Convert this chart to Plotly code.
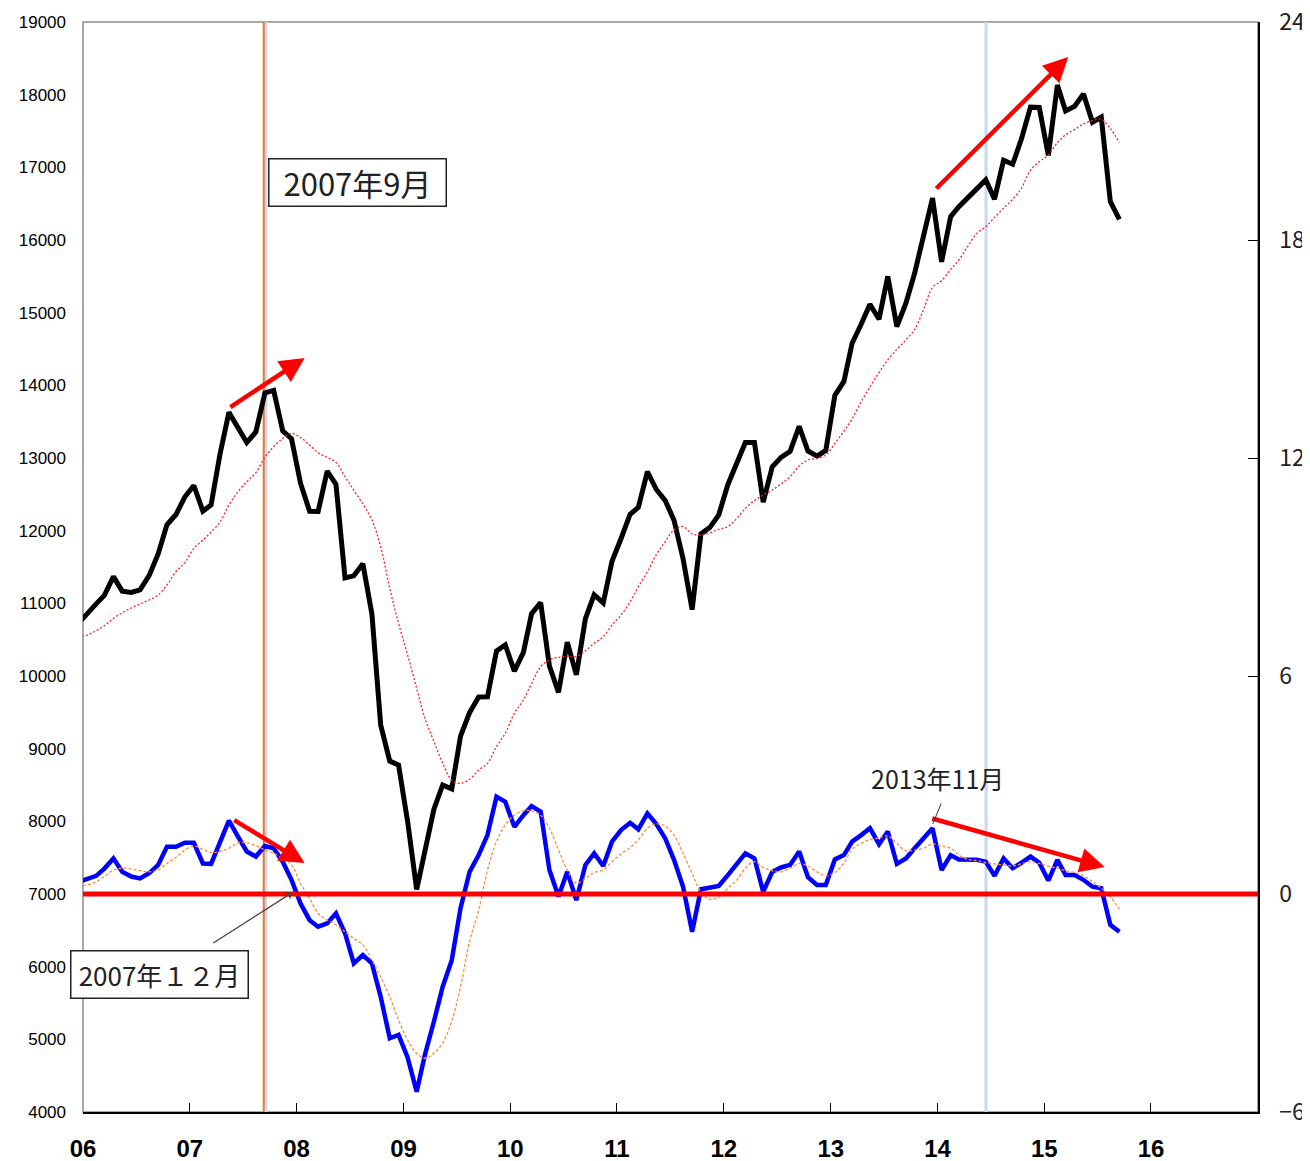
import pandas as pd
import plotly.graph_objects as go

# monthly points, plotted mid-month (Dec 2005 .. Sep 2015)
months = pd.date_range("2005-12-01", periods=118, freq="MS") + pd.Timedelta(days=14)

# Dow Jones monthly close (left axis)
dow = [10718,
       10864, 10993, 11109, 11367, 11168, 11150, 11186, 11381, 11679, 12081, 12222, 12463,
       12622, 12269, 12354, 13063, 13628, 13409, 13212, 13358, 13896, 13930, 13372, 13265,
       12650, 12266, 12263, 12820, 12638, 11350, 11378, 11544, 10851, 9325, 8829, 8776,
       8001, 7063, 7609, 8168, 8500, 8447, 9172, 9496, 9712, 9713, 10345, 10428,
       10067, 10325, 10857, 11009, 10137, 9774, 10466, 10015, 10788, 11118, 11006, 11578,
       11892, 12226, 12320, 12811, 12570, 12414, 12143, 11614, 10913, 11955, 12046, 12218,
       12633, 12952, 13212, 13214, 12393, 12880, 13009, 13091, 13437, 13096, 13026, 13104,
       13861, 14054, 14579, 14840, 15116, 14910, 15500, 14810, 15130, 15546, 16086, 16577,
       15699, 16322, 16458, 16581, 16717, 16827, 16563, 17098, 17043, 17391, 17828, 17823,
       17165, 18133, 17776, 17841, 18011, 17620, 17690, 16528, 16285]

# moving average of the index
dow_ma = [10540,
          10564, 10623, 10692, 10793, 10871, 10936, 10991, 11046, 11114, 11252, 11436, 11559,
          11757, 11871, 11981, 12124, 12353, 12536, 12674, 12798, 13009, 13156, 13270, 13339,
          13280, 13179, 13073, 13009, 12940, 12743, 12559, 12367, 12147, 11779, 11206, 10725,
          10290, 9830, 9420, 9100, 8800, 8569, 8523, 8578, 8706, 8798, 9027, 9211,
          9486, 9670, 9899, 10128, 10220, 10257, 10266, 10266, 10348, 10449, 10541, 10702,
          10839, 11023, 11229, 11435, 11665, 11848, 12009, 12055, 11954, 11940, 11972, 12018,
          12055, 12169, 12307, 12413, 12490, 12559, 12642, 12743, 12890, 12972, 12995, 13041,
          13200, 13370, 13540, 13775, 13980, 14175, 14350, 14495, 14625, 14770, 15050, 15348,
          15440, 15596, 15724, 15915, 16090, 16183, 16312, 16436, 16560, 16711, 16963, 17077,
          17169, 17339, 17445, 17523, 17596, 17642, 17661, 17537, 17339]

# indicator on the right axis
indicator = [0.33,
             0.42, 0.50, 0.70, 0.98, 0.61, 0.48, 0.43, 0.57, 0.80, 1.30, 1.30, 1.41,
             1.41, 0.84, 0.83, 1.44, 2.02, 1.58, 1.17, 1.03, 1.32, 1.26, 0.89, 0.39,
             -0.26, -0.72, -0.90, -0.81, -0.53, -1.08, -1.91, -1.68, -1.91, -2.83, -3.97, -3.88,
             -4.50, -5.44, -4.43, -3.51, -2.55, -1.82, -0.39, 0.61, 1.07, 1.62, 2.68, 2.54,
             1.85, 2.17, 2.42, 2.27, 0.66, -0.07, 0.61, -0.17, 0.80, 1.12, 0.77, 1.44,
             1.76, 1.96, 1.78, 2.22, 1.93, 1.53, 0.94, 0.20, -1.04, 0.13, 0.18, 0.22,
             0.52, 0.84, 1.12, 0.98, 0.06, 0.61, 0.73, 0.80, 1.17, 0.46, 0.25, 0.25,
             0.95, 1.07, 1.44, 1.62, 1.81, 1.37, 1.72, 0.83, 0.98, 1.26, 1.53, 1.81,
             0.66, 1.07, 0.95, 0.94, 0.94, 0.89, 0.50, 0.98, 0.71, 0.86, 1.03, 0.86,
             0.37, 0.94, 0.52, 0.52, 0.39, 0.20, 0.16, -0.85, -1.04]

indicator_ma = [0.22,
                0.25, 0.34, 0.48, 0.66, 0.71, 0.69, 0.64, 0.61, 0.66, 0.84, 1.01, 1.21,
                1.32, 1.23, 1.14, 1.17, 1.26, 1.41, 1.41, 1.33, 1.21, 1.12, 0.98, 0.80,
                0.29, -0.12, -0.53, -0.72, -0.85, -1.04, -1.22, -1.40, -1.82, -2.28, -2.83, -3.47,
                -4.02, -4.39, -4.52, -4.38, -4.10, -3.50, -2.55, -1.30, -0.45, 0.65, 1.45, 1.90,
                2.17, 2.29, 2.29, 2.17, 1.81, 1.21, 0.66, 0.29, 0.43, 0.59, 0.66, 0.89,
                1.10, 1.28, 1.49, 1.81, 1.93, 1.87, 1.62, 1.12, 0.57, 0.06, -0.15, -0.09,
                0.16, 0.39, 0.71, 0.89, 0.73, 0.64, 0.61, 0.71, 0.84, 0.77, 0.61, 0.50,
                0.59, 0.85, 1.23, 1.39, 1.50, 1.54, 1.60, 1.39, 1.19, 1.21, 1.26, 1.38,
                1.32, 1.26, 1.07, 0.95, 0.92, 0.86, 0.83, 0.80, 0.77, 0.83, 0.89, 0.84,
                0.77, 0.71, 0.64, 0.59, 0.50, 0.34, 0.16, -0.07, -0.42]

year_ticks = [f"{y}-01-01" for y in range(2006, 2017)]
year_labels = [f"{y % 100:02d}" for y in range(2006, 2017)]
left_ticks = list(range(4000, 19001, 1000))
left_labels = [str(v) for v in left_ticks]
right_ticks = [-6, 0, 6, 12, 18, 24]
right_labels = ["\u22126", "0", "6", "12", "18", "24"]

JP = "Noto Sans CJK JP"

fig = go.Figure()
fig.add_trace(go.Scatter(x=months, y=dow, mode="lines",
                         line=dict(color="black", width=5), yaxis="y"))
fig.add_trace(go.Scatter(x=months, y=dow_ma, mode="lines",
                         line=dict(color="#ff2020", width=1.3, dash="2px,2px", shape="spline"),
                         yaxis="y"))
fig.add_trace(go.Scatter(x=months, y=indicator, mode="lines",
                         line=dict(color="#0000ff", width=4.5), yaxis="y2"))
fig.add_trace(go.Scatter(x=months, y=indicator_ma, mode="lines",
                         line=dict(color="#ff8a3d", width=1.3, dash="3px,2px", shape="spline"),
                         yaxis="y2"))

shapes = [
    # plot frame (grey left/top)
    dict(type="rect", xref="paper", yref="paper", x0=0, x1=1, y0=0, y1=1,
         line=dict(color="#8c8c8c", width=1.5), layer="below"),
    # vertical markers
    dict(type="line", xref="x", yref="paper", x0="2007-09-18", x1="2007-09-18", y0=0, y1=1,
         line=dict(color="#c6d9f0", width=3), layer="below"),
    dict(type="line", xref="x", yref="paper", x0="2007-09-11", x1="2007-09-11", y0=0, y1=1,
         line=dict(color="#e8792a", width=2), layer="below"),
    dict(type="line", xref="x", yref="paper", x0="2014-06-16", x1="2014-06-16", y0=0, y1=1,
         line=dict(color="#c6d9f0", width=3), layer="below"),
    # zero line of the right axis
    dict(type="line", xref="paper", yref="y2", x0=0, x1=1, y0=0, y1=0,
         line=dict(color="#ff0000", width=5), layer="above"),
]

red_arrows = [
    # (head x, head y, tail x, tail y, axis)
    ("2008-01-29", 14376, "2007-05-15", 13688, "y"),
    ("2008-01-29", 0.85, "2007-05-28", 2.06, "y2"),
    ("2015-03-24", 18518, "2013-12-23", 16688, "y"),
    ("2015-07-27", 0.74, "2013-12-09", 2.09, "y2"),
]

annotations = []
for hx, hy, tx, ty, ax_name in red_arrows:
    annotations.append(dict(x=hx, y=hy, ax=tx, ay=ty, xref="x", yref=ax_name,
                            axref="x", ayref=ax_name, text="", showarrow=True,
                            arrowhead=2, arrowsize=1.1, arrowwidth=4.5, arrowcolor="#ff0000"))

annotations += [
    dict(text="2007年9月", xref="paper", yref="paper", x=(268 - 83) / 1175, y=(1112 - 158) / 1090,
         xanchor="left", yanchor="top", showarrow=False, width=172, height=42, align="center",
         font=dict(family=JP, size=31, color="#222"), bgcolor="white",
         bordercolor="#222", borderwidth=1.5, borderpad=2),
    dict(text="2007年１２月", xref="paper", yref="paper", x=(70 - 83) / 1175, y=(1112 - 950) / 1090,
         xanchor="left", yanchor="top", showarrow=False, width=172, height=42, align="center",
         font=dict(family=JP, size=26, color="#222"), bgcolor="white",
         bordercolor="#222", borderwidth=1.5, borderpad=2),
    dict(x="2007-12-16", y=0.03, xref="x", yref="y2", ax=-80, ay=51, text="",
         showarrow=True, arrowhead=1, arrowsize=1.2, arrowwidth=1.3, arrowcolor="#5a3c3c"),
    dict(text="2013年11月", xref="paper", yref="paper", x=(937 - 83) / 1175, y=(1112 - 778) / 1090,
         xanchor="center", yanchor="middle", showarrow=False,
         font=dict(family=JP, size=25, color="#222")),
    dict(x="2013-12-16", y=1.93, xref="x", yref="y2", ax=9, ay=-22, text="",
         showarrow=True, arrowhead=0, arrowwidth=1, arrowcolor="#333"),
]

# the page body adds an 8px offset, so the figure is 8px smaller than the window
fig.update_layout(
    width=1302, height=1153,
    margin=dict(l=75, r=52, t=14, b=49),
    paper_bgcolor="white", plot_bgcolor="white",
    showlegend=False,
    shapes=shapes,
    annotations=annotations,
    xaxis=dict(type="date", range=["2006-01-01", "2017-01-01"],
               tickvals=year_ticks, ticktext=year_labels,
               ticks="inside", ticklen=9, tickwidth=1.2, tickcolor="black",
               showline=True, linecolor="black", linewidth=1.5,
               showgrid=False, zeroline=False, ticklabelstandoff=14, automargin=False,
               tickfont=dict(family="Liberation Sans", size=24, color="black", weight="bold")),
    yaxis=dict(range=[4000, 19000], tickvals=left_ticks, ticktext=left_labels,
               ticks="", showline=False, showgrid=False, zeroline=False,
               ticklabelstandoff=16, automargin=False,
               tickfont=dict(family="Liberation Sans Narrow, Liberation Sans", size=17, color="black")),
    yaxis2=dict(range=[-6, 24], tickvals=right_ticks, ticktext=right_labels,
                overlaying="y", side="right",
                ticks="inside", ticklen=10, tickwidth=1.2, tickcolor="black",
                showline=True, linecolor="black", linewidth=1.5,
                showgrid=False, zeroline=False, ticklabelstandoff=15, automargin=False,
                ticklabeloverflow="allow",
                tickfont=dict(family=JP, size=23, color="#222")),
)

fig.write_html("out.html")
